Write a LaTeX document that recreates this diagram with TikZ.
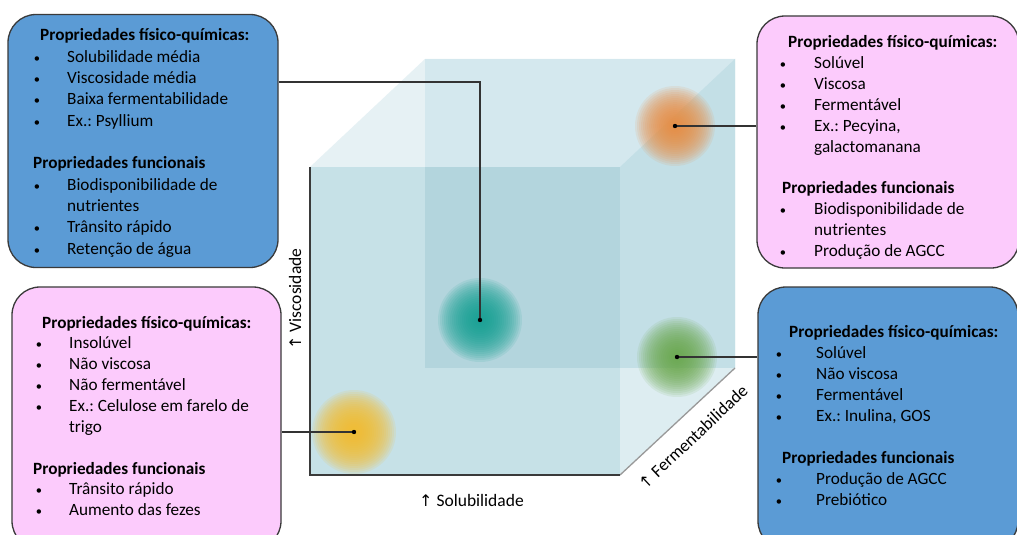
\documentclass[tikz,border=0pt]{standalone}
\usepackage{fontspec}
\setmainfont{Carlito}
\newfontfamily\arrowfont{DejaVu Sans}
\frenchspacing
\definecolor{boxblue}{HTML}{5B9BD5}
\definecolor{boxpink}{HTML}{FCCBFC}
\definecolor{edgedark}{HTML}{3A3A3A}
\definecolor{hexc}{HTML}{E6F1F4}
\definecolor{backc}{HTML}{D4E8EE}
\definecolor{rightback}{HTML}{C3DFE6}
\definecolor{rightlow}{HTML}{DDEDF1}
\definecolor{frontc}{HTML}{C6E1E7}
\definecolor{frontback}{HTML}{B3D5DD}
\definecolor{tealc}{HTML}{12A092}
\definecolor{orc}{HTML}{EC8A3C}
\definecolor{grc}{HTML}{68A748}
\definecolor{yec}{HTML}{F6BD2C}
\newcommand\bitem[5]{\node[bul] (#1b) at (#2,#4) {•};\node[txt] (#1) at (#3,#4) {#5};}
\newcommand\upar{{\arrowfont\fontsize{16}{16}\selectfont ↑}}
\begin{document}
\begin{tikzpicture}[x=1pt,y=-1pt,
  txt/.style={font=\fontsize{17.2}{21}\selectfont, inner sep=0pt, anchor=base west},
  hd/.style={txt, font=\fontsize{17.2}{21}\selectfont\bfseries},
  bul/.style={font=\fontsize{12.5}{21}\selectfont, inner sep=0pt, anchor=base},
  lbl/.style={font=\fontsize{17.5}{20}\selectfont, inner sep=0pt},
  bbox/.style={draw=edgedark, line width=1.3pt, rounded corners=28pt},
  conn/.style={draw=black!80, line width=1.4pt},
  dot/.style={fill=black}]
\useasboundingbox (0,0) rectangle (1017,535);
\clip (0,0) rectangle (1017,535);
\fill[white] (0,0) rectangle (1017,535);

% cube points
\coordinate (F1) at (310,167); \coordinate (F2) at (620,167);
\coordinate (F3) at (620,475); \coordinate (F4) at (310,475);
\coordinate (B1) at (425,59);  \coordinate (B2) at (735,59);
\coordinate (B3) at (735,368); \coordinate (B4) at (425,368);

\fill[hexc] (F1) -- (B1) -- (B2) -- (B3) -- (F3) -- (F4) -- cycle;
\fill[backc] (B1) rectangle (B3);
\fill[rightback] (F2) -- (B2) -- (B3) -- (620,368) -- cycle;
\fill[rightlow] (620,368) -- (B3) -- (F3) -- cycle;
\fill[frontc] (F1) rectangle (F3);
\fill[frontback] (425,167) rectangle (620,368);
\draw[black!40, line width=1.3pt] (F3) -- (B3);
\draw[edgedark, line width=1.8pt] (F1) -- (F4) -- (F3);

% spheres
\coordinate (teal) at (480,320);
\coordinate (orange) at (675,126);
\coordinate (green) at (677,357);
\coordinate (yellow) at (354,432);
\foreach \r in {2,4,...,42} {
  \fill[tealc, opacity=0.11] (teal) circle (\r);
  \fill[orc, opacity=0.11] (orange) circle (\r-2);
  \fill[grc, opacity=0.11] (green) circle (\r-2);
  \fill[yec, opacity=0.12] (yellow) circle (\r);
}

% axis labels
\node[lbl, rotate=90] (lv) at (295,299) {\upar\ Viscosidade};
\node[lbl] (ls) at (471.5,500) {\upar\ Solubilidade};
\node[lbl, rotate=43.2] (lf) at (693,437) {\upar\ Fermentabilidade};

% boxes
\node[bbox, fill=boxblue, minimum width=270pt, minimum height=253pt, inner sep=0pt] (box1) at (143,141) {};
\node[bbox, fill=boxpink, minimum width=262pt, minimum height=252pt, inner sep=0pt] (box2) at (888,142) {};
\node[bbox, fill=boxpink, minimum width=269pt, minimum height=262pt, inner sep=0pt] (box3) at (146.5,418) {};
\node[bbox, fill=boxblue, minimum width=260pt, minimum height=262pt, inner sep=0pt] (box4) at (888,418) {};

% connectors
\coordinate (k1) at (box1.east |- 0,82);
\draw[conn] (teal) -- (teal |- k1) -- (k1);
\draw[conn] (orange) -- (orange -| box2.west);
\draw[conn] (green) -- (green -| box4.west);
\draw[conn] (yellow) -- (yellow -| box3.east);
\foreach \s in {teal,orange,green,yellow} \fill[dot] (\s) circle (2.2);

% box 1 text
\node[hd] (b1h) at (40,41) {Propriedades físico-químicas:};
\bitem{b1a}{37}{67}{62.3}{Solubilidade média}
\bitem{b1b}{37}{67}{83.6}{Viscosidade média}
\bitem{b1c}{37}{67}{104.9}{Baixa fermentabilidade}
\bitem{b1d}{37}{67}{126.2}{Ex.: Psyllium}
\node[hd] (b1f) at (33,168.8) {Propriedades funcionais};
\bitem{b1e}{37}{67}{190.1}{Biodisponibilidade de}
\node[txt] (b1e2) at (67,211.4) {nutrientes};
\bitem{b1g}{37}{67}{232.7}{Trânsito rápido}
\bitem{b1i}{37}{67}{254}{Retenção de água}

% box 2 text
\node[hd] (b2h) at (788,48) {Propriedades físico-químicas:};
\bitem{b2a}{783}{814}{68.8}{Solúvel}
\bitem{b2b}{783}{814}{89.6}{Viscosa}
\bitem{b2c}{783}{814}{110.4}{Fermentável}
\bitem{b2d}{783}{814}{131.2}{Ex.: Pecyina,}
\node[txt] (b2d2) at (814,152) {galactomanana};
\node[hd] (b2f) at (782,193.6) {Propriedades funcionais};
\bitem{b2e}{783}{814}{214.4}{Biodisponibilidade de}
\node[txt] (b2e2) at (814,235.2) {nutrientes};
\bitem{b2g}{783}{814}{256}{Produção de AGCC}

% box 3 text
\node[hd] (b3h) at (42,328) {Propriedades físico-químicas:};
\bitem{b3a}{39}{69}{348.9}{Insolúvel}
\bitem{b3b}{39}{69}{369.7}{Não viscosa}
\bitem{b3c}{39}{69}{390.6}{Não fermentável}
\bitem{b3d}{39}{69}{411.4}{Ex.: Celulose em farelo de}
\node[txt] (b3d2) at (69,432.3) {trigo};
\node[hd] (b3f) at (33,474) {Propriedades funcionais};
\bitem{b3e}{39}{69}{494.9}{Trânsito rápido}
\bitem{b3g}{39}{69}{515.7}{Aumento das fezes}

% box 4 text
\node[hd] (b4h) at (789,337) {Propriedades físico-químicas:};
\bitem{b4a}{779}{816}{358.1}{Solúvel}
\bitem{b4b}{779}{816}{379.2}{Não viscosa}
\bitem{b4c}{779}{816}{400.3}{Fermentável}
\bitem{b4d}{779}{816}{421.4}{Ex.: Inulina, GOS}
\node[hd] (b4f) at (782,463.6) {Propriedades funcionais};
\bitem{b4e}{779}{816}{484.7}{Produção de AGCC}
\bitem{b4g}{779}{816}{505.8}{Prebiótico}
\end{tikzpicture}
\end{document}
